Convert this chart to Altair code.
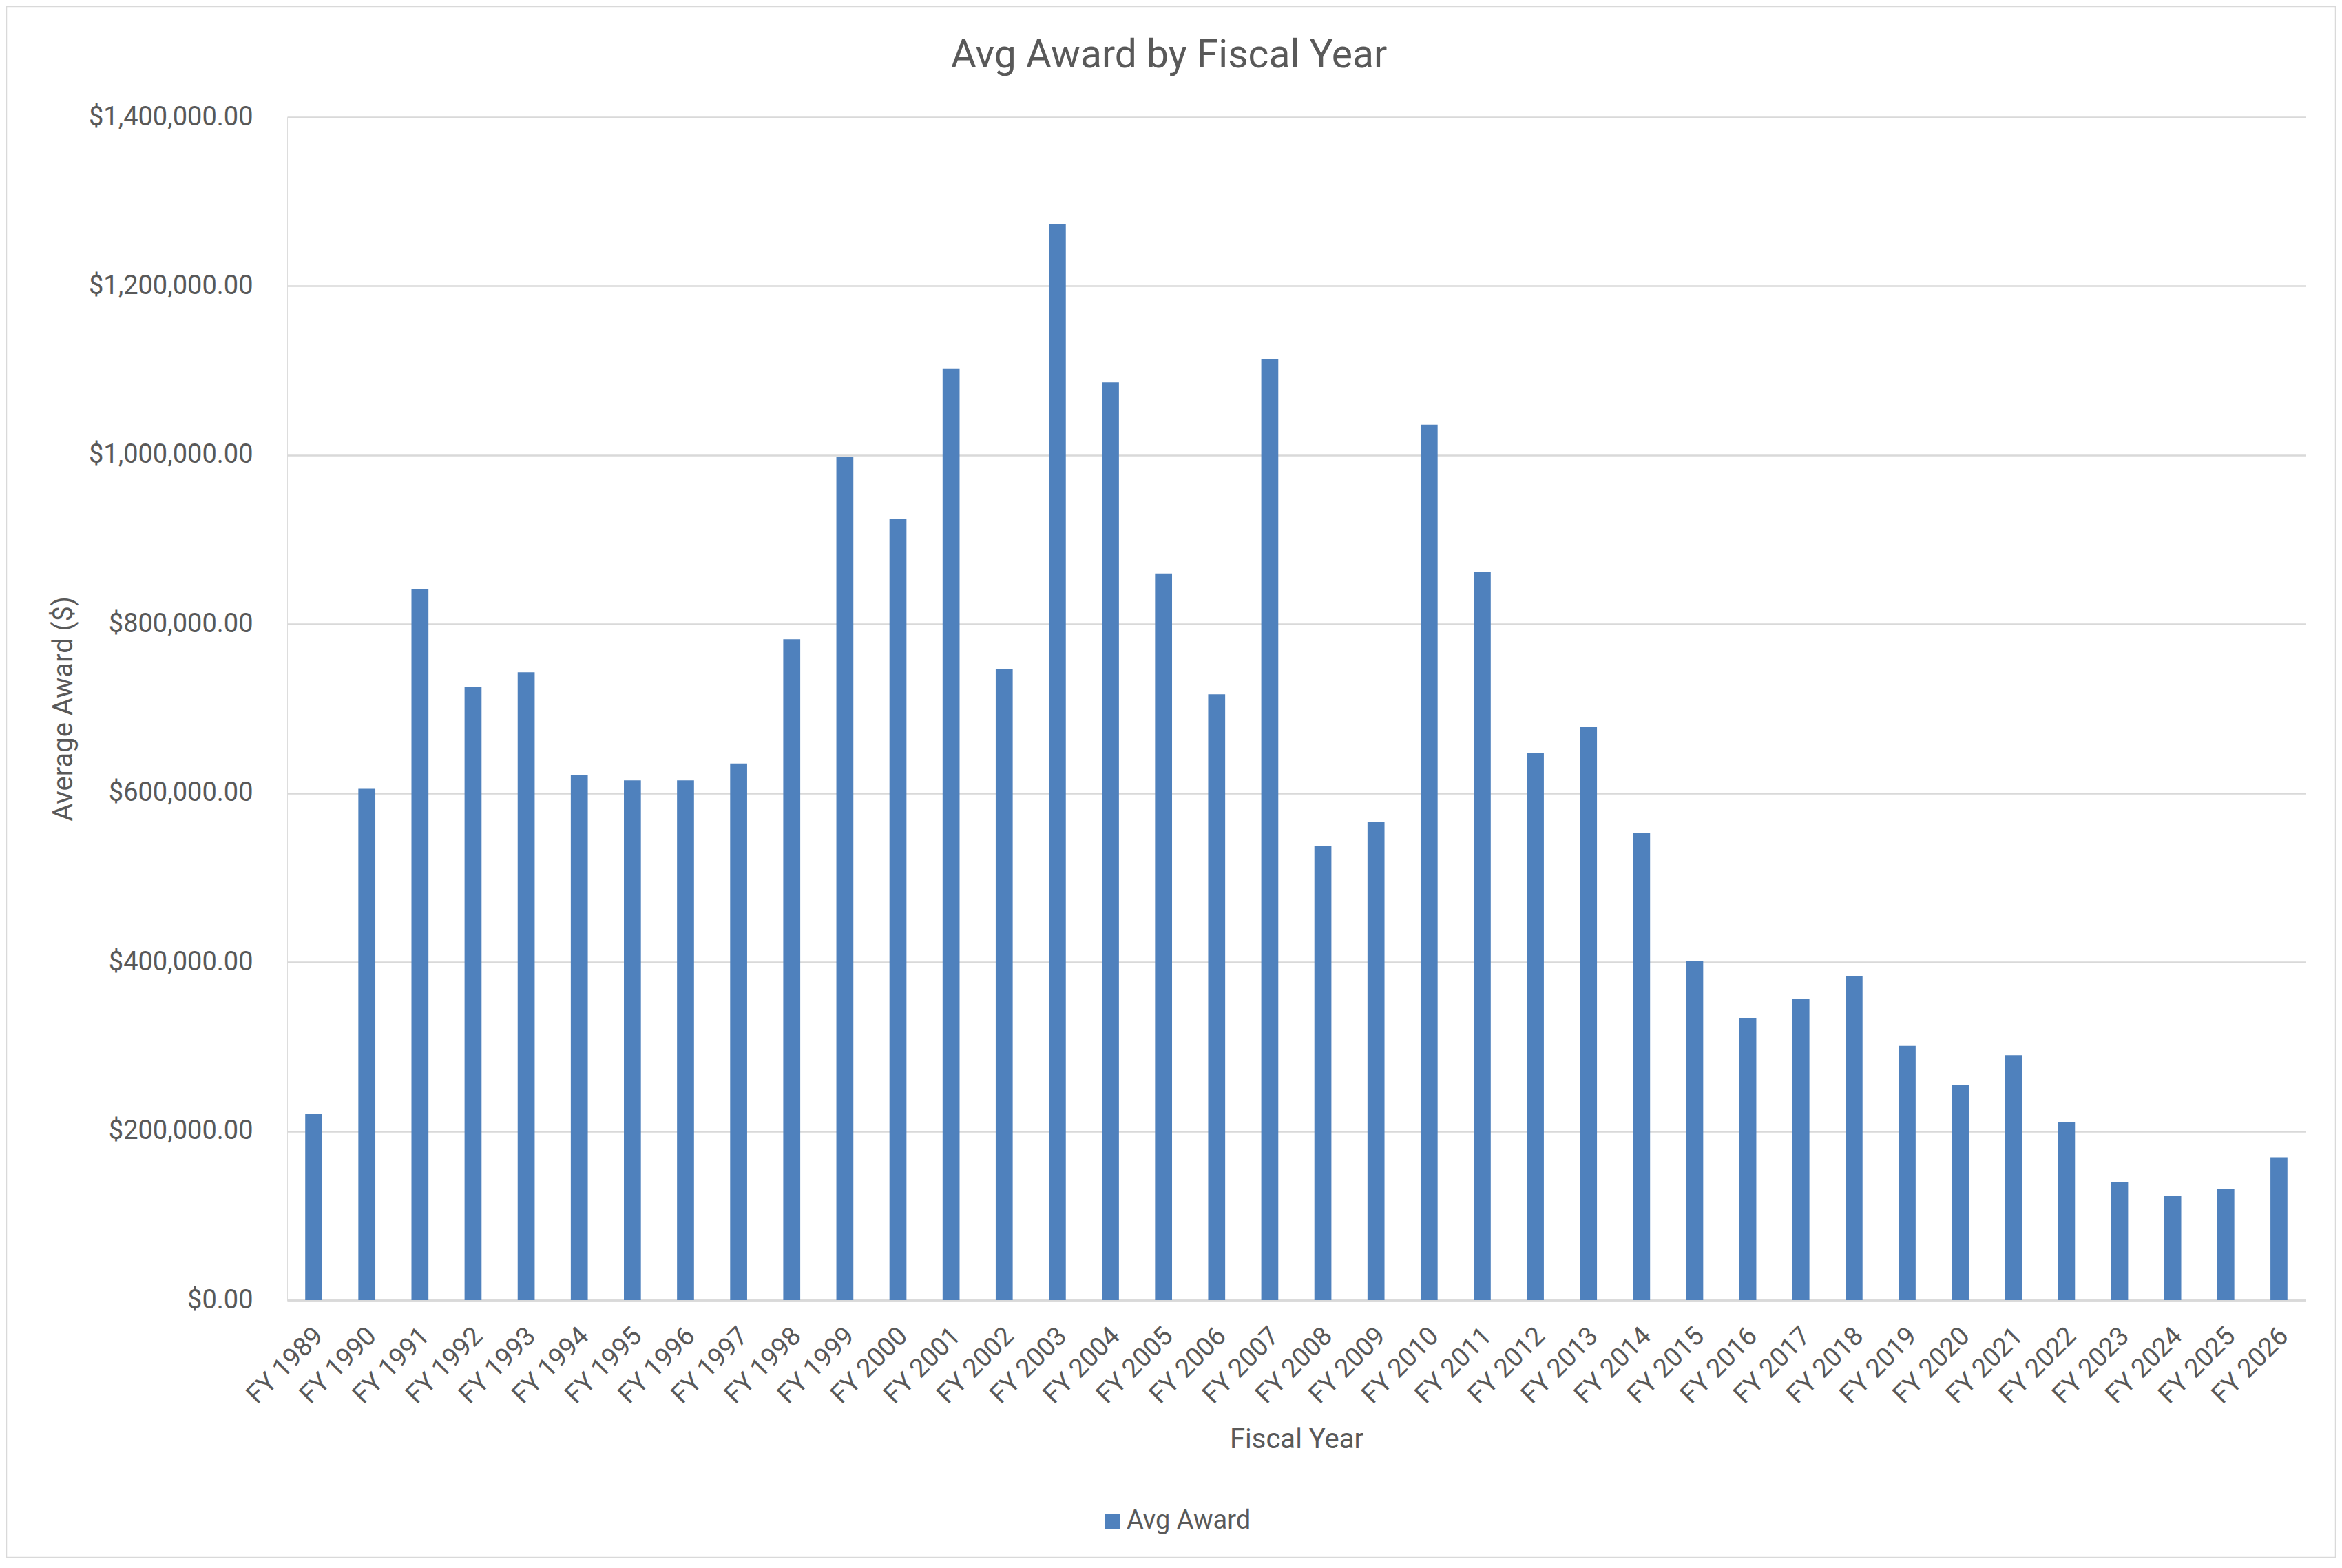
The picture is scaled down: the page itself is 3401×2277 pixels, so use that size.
import altair as alt
import pandas as pd

years = [
    "FY 1989", "FY 1990", "FY 1991", "FY 1992", "FY 1993", "FY 1994", "FY 1995",
    "FY 1996", "FY 1997", "FY 1998", "FY 1999", "FY 2000", "FY 2001", "FY 2002",
    "FY 2003", "FY 2004", "FY 2005", "FY 2006", "FY 2007", "FY 2008", "FY 2009",
    "FY 2010", "FY 2011", "FY 2012", "FY 2013", "FY 2014", "FY 2015", "FY 2016",
    "FY 2017", "FY 2018", "FY 2019", "FY 2020", "FY 2021", "FY 2022", "FY 2023",
    "FY 2024", "FY 2025", "FY 2026",
]
avg_award = [
    220000, 605000, 841000, 726000, 743000, 621000, 615000,
    615000, 635000, 782000, 998000, 925000, 1102000, 747000,
    1273000, 1086000, 860000, 717000, 1114000, 537000, 566000,
    1036000, 862000, 647000, 678000, 553000, 401000, 334000,
    357000, 383000, 301000, 255000, 290000, 211000, 140000,
    123000, 132000, 169000,
]
series_name = "Avg Award"
y_ticks = [0, 200000, 400000, 600000, 800000, 1000000, 1200000, 1400000]

df = pd.DataFrame({"year": years, "value": avg_award, "series": series_name})

FONT = "Roboto"
TXT = "#595959"
GRID = "#D9D9D9"
BLUE = "#4F81BD"

bars = alt.Chart(df).mark_bar(color=BLUE).encode(
    x=alt.X(
        "year:N",
        sort=years,
        scale=alt.Scale(paddingInner=0.68, paddingOuter=0.34),
        axis=alt.Axis(
            title="Fiscal Year",
            titleFont=FONT,
            titleFontSize=40,
            titleFontWeight="normal",
            titleColor=TXT,
            titleY=214,
            titleBaseline="alphabetic",
            labelFont=FONT,
            labelFontSize=38,
            labelColor=TXT,
            labelAngle=-45,
            labelAlign="right",
            labelBaseline="middle",
            labelPadding=46,
            labelOffset=8,
            labelOverlap=False,
            labelLimit=600,
            ticks=False,
            tickSize=0,
            domain=True,
            domainColor=GRID,
            domainWidth=2.5,
        ),
    ),
    y=alt.Y(
        "value:Q",
        scale=alt.Scale(domain=[0, 1400000], nice=False),
        axis=alt.Axis(
            title="Average Award ($)",
            titleFont=FONT,
            titleFontSize=40,
            titleFontWeight="normal",
            titleColor=TXT,
            titleX=-325,
            titleY=859,
            titleAngle=-90,
            titleAlign="center",
            titleBaseline="middle",
            values=y_ticks,
            format="$,.2f",
            labelFont=FONT,
            labelFontSize=38,
            labelColor=TXT,
            labelPadding=50,
            labelLimit=600,
            ticks=False,
            tickSize=0,
            domain=False,
            grid=True,
            gridColor=GRID,
            gridWidth=2.5,
        ),
    ),
    color=alt.Color(
        "series:N",
        scale=alt.Scale(domain=[series_name], range=[BLUE]),
        legend=alt.Legend(
            title=None,
            orient="none",
            legendX=1179,
            legendY=2020,
            symbolType="square",
            symbolSize=484,
            symbolStrokeWidth=0,
            labelFont=FONT,
            labelFontSize=38,
            labelColor=TXT,
            labelOffset=2,
            labelLimit=600,
            padding=0,
        ),
    ),
)

border = alt.Chart(alt.Data(values=[{"k": 1}])).mark_rect(
    fillOpacity=0, stroke=GRID, strokeWidth=2.5
).encode(
    x=alt.value(-408), x2=alt.value(2975), y=alt.value(-161), y2=alt.value(2092)
)

chart = alt.layer(border, bars).properties(
    width=2931,
    height=1718,
    autosize=alt.AutoSizeParams(type="none"),
    padding={"left": 409, "top": 162, "right": 45, "bottom": 375},
    title=alt.TitleParams(
        "Avg Award by Fiscal Year",
        font=FONT,
        fontSize=57,
        fontWeight="normal",
        color=TXT,
        anchor="middle",
        frame="group",
        dx=-185,
        baseline="alphabetic",
        offset=-147,
    ),
).configure_view(stroke=None).configure(background="white")

chart.save("out.html", embed_options={"renderer": "svg", "actions": False})
